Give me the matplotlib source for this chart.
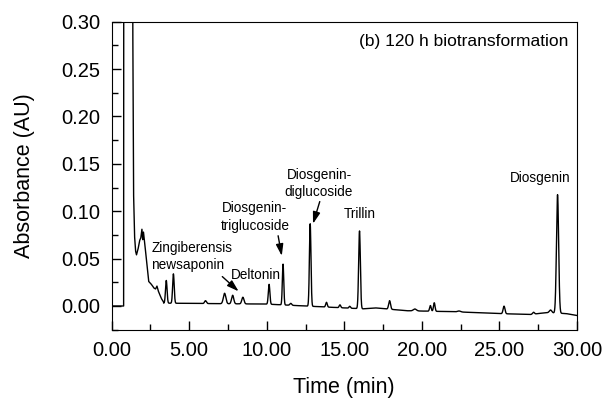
import numpy as np
import matplotlib
matplotlib.use("Agg")
import matplotlib.pyplot as plt
from matplotlib.ticker import MultipleLocator, FormatStrFormatter

plt.rcParams['font.family'] = ['Liberation Sans', 'DejaVu Sans']

# ── Data ──────────────────────────────────────────────────────────────────────
# solvent front and early hump, point by point (min, AU)
front_t = [0.00, 0.77, 0.79, 1.32, 1.36, 1.41, 1.47, 1.54, 1.60, 1.70, 1.80,
           1.88, 1.95, 2.00, 2.05, 2.12, 2.22, 2.30, 2.38, 2.50, 2.60, 2.72,
           2.83, 2.92, 3.00, 3.08, 3.20, 3.35]
front_y = [0.000, 0.000, 0.900, 0.900, 0.300, 0.120, 0.075, 0.058, 0.054, 0.060,
           0.069, 0.072, 0.081, 0.070, 0.078, 0.068, 0.052, 0.040, 0.026, 0.024,
           0.022, 0.019, 0.018, 0.021, 0.016, 0.013, 0.008, 0.004]

# later peaks: retention time (min), height above baseline (AU), width (min)
peak_t = [3.52, 3.98, 6.05, 7.28, 7.80, 8.46, 10.15, 11.05, 11.55, 12.80,
          13.85, 14.72, 15.35, 15.98, 17.92, 19.55, 20.55, 20.80, 22.40,
          25.30, 27.20, 28.30, 28.75]
peak_h = [0.024, 0.031, 0.003, 0.011, 0.009, 0.007, 0.021, 0.043, 0.002, 0.087,
          0.005, 0.003, 0.002, 0.082, 0.009, 0.002, 0.006, 0.009, 0.001,
          0.008, 0.002, 0.003, 0.125]
peak_w = [0.05, 0.05, 0.06, 0.08, 0.07, 0.07, 0.05, 0.045, 0.06, 0.05,
          0.05, 0.05, 0.05, 0.055, 0.06, 0.10, 0.05, 0.05, 0.10,
          0.06, 0.06, 0.08, 0.07]

# baseline drift
base_t = [0.0, 3.4, 10.0, 16.2, 17.0, 19.0, 22.0, 25.0, 27.0, 28.0, 29.3, 30.0]
base_y = [0.000, 0.003, 0.002, -0.003, -0.002, -0.005, -0.006, -0.008, -0.009,
          -0.007, -0.008, -0.010]

labels = ["Zingiberensis\nnewsaponin", "Deltonin", "Diosgenin-\ntriglucoside",
          "Diosgenin-\ndiglucoside", "Trillin", "Diosgenin"]

# ── Build trace ───────────────────────────────────────────────────────────────
t = np.linspace(0, 30, 6001)
y = np.interp(t, base_t, base_y)
y = np.where(t < front_t[-1], np.interp(t, front_t, front_y), y)
for pt, ph, pw in zip(peak_t, peak_h, peak_w):
    y = y + ph * np.exp(-0.5 * ((t - pt) / pw) ** 2)

# ── Plot ──────────────────────────────────────────────────────────────────────
fig = plt.figure(figsize=(6.05, 3.99), dpi=100)
ax = fig.add_axes([0.1846, 0.173, 0.769, 0.7726])
ax.plot(t, y, color="black", lw=1.0)

ax.set_xlim(0, 30)
ax.set_ylim(-0.0253, 0.30)
ax.xaxis.set_major_locator(MultipleLocator(5))
ax.xaxis.set_minor_locator(MultipleLocator(2.5))
ax.yaxis.set_major_locator(MultipleLocator(0.05))
ax.yaxis.set_minor_locator(MultipleLocator(0.025))
ax.xaxis.set_major_formatter(FormatStrFormatter("%.2f"))
ax.yaxis.set_major_formatter(FormatStrFormatter("%.2f"))
ax.set_yticks(np.arange(0, 0.31, 0.05))
ax.tick_params(which="both", direction="in", top=False, right=False,
               labelsize=14.5, width=1.0, pad=8)
ax.tick_params(which="major", length=6.5)
ax.tick_params(which="minor", length=4)
ax.set_xlabel("Time (min)", fontsize=15.5, labelpad=12)
ax.set_ylabel("Absorbance (AU)", fontsize=15.5, labelpad=19)

ax.text(29.42, 0.279, "(b) 120 h biotransformation", ha="right", va="center",
        fontsize=12.5)

fs = 9.8
arrow = dict(arrowstyle="-|>,head_width=0.22,head_length=0.7", color="black",
             lw=1.0, mutation_scale=10)
ax.text(2.56, 0.052, labels[0], ha="left", va="center", fontsize=fs,
        linespacing=1.3)
ax.annotate("", xy=(8.32, 0.0135), xytext=(7.0, 0.033), arrowprops=arrow)
ax.text(9.3, 0.033, labels[1], ha="center", va="center", fontsize=fs)
ax.text(9.24, 0.094, labels[2], ha="center", va="center", fontsize=fs,
        linespacing=1.3)
ax.annotate("", xy=(11.0, 0.050), xytext=(10.7, 0.077), arrowprops=arrow)
ax.text(13.37, 0.129, labels[3], ha="center", va="center", fontsize=fs,
        linespacing=1.3)
ax.annotate("", xy=(12.93, 0.084), xytext=(13.47, 0.113), arrowprops=arrow)
ax.text(16.0, 0.097, labels[4], ha="center", va="center", fontsize=fs)
ax.text(27.6, 0.135, labels[5], ha="center", va="center", fontsize=fs)

fig.savefig("out.png", dpi=100)
